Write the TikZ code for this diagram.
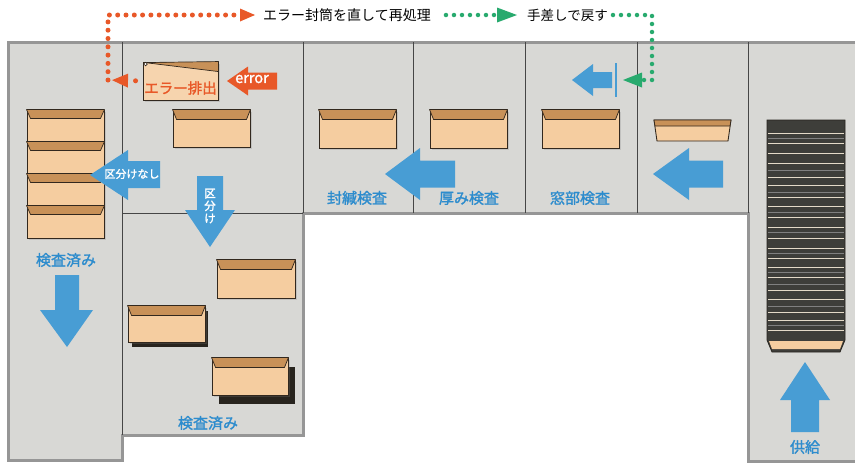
\documentclass[tikz,border=0pt]{standalone}
\usepackage{fontspec}
\newfontfamily\jp{Noto Sans CJK JP}
\newfontfamily\jpb[FakeBold=1.6]{Noto Sans CJK JP}
\usetikzlibrary{arrows.meta,shadows}

\definecolor{floorgray}{RGB}{216,216,213}
\definecolor{rimgray}{RGB}{150,150,150}
\definecolor{seamgray}{RGB}{70,70,70}
\definecolor{paper}{RGB}{245,205,160}
\definecolor{flapbrown}{RGB}{200,145,88}
\definecolor{edge}{RGB}{50,40,30}
\definecolor{flowblue}{RGB}{72,157,212}
\definecolor{lblblue}{RGB}{45,140,205}
\definecolor{errorange}{RGB}{232,88,40}
\definecolor{backgreen}{RGB}{40,170,110}
\definecolor{stackdark}{RGB}{62,62,58}
\definecolor{stackline}{RGB}{228,218,200}
\definecolor{boxside}{RGB}{40,36,30}

\begin{document}
\begin{tikzpicture}[x=1pt, y=-1pt,
		env/.style={rectangle, draw=edge, fill=paper, line width=0.9pt, inner sep=0pt,
			drop shadow={shadow xshift=2pt, shadow yshift=-2pt, opacity=0.25}},
		flap/.style={draw=edge, fill=flapbrown, line width=0.7pt, line join=round},
		flow/.style={fill=flowblue},
		rim/.style={draw=rimgray, line width=3pt, line join=miter},
		seam/.style={draw=seamgray, line width=0.9pt},
		lbl/.style={text=lblblue, font=\jpb\fontsize{15}{15}\selectfont, inner sep=0pt},
		odots/.style={draw=errorange, line width=5pt, line cap=round, dash pattern=on 0pt off 8.3pt},
		gdots/.style={draw=backgreen, line width=4.5pt, line cap=round, dash pattern=on 0pt off 8pt}
	]
	\useasboundingbox (0,0) rectangle (855,464);

	% Floor of the machine
	\fill[floorgray] (8,42) -- (855,42) -- (855,461) -- (748,461) -- (748,213) -- (303,213)
		-- (303,435) -- (122,435) -- (122,460) -- (8,460) -- cycle;
	\draw[rim] (855,42) -- (8,42) -- (8,460) -- (122,460) -- (122,435) -- (303,435)
		-- (303,213) -- (748,213) -- (748,461) -- (855,461);
	\draw[seam] (122,42) -- (122,435);
	\draw[seam] (122,213) -- (303,213);
	\foreach \x in {303,413,525,637,748}
		\draw[seam] (\x,42) -- (\x,213);

	% Supply stack (right)
	\filldraw[draw=boxside, fill=stackdark, line width=0.8pt] (767,120) -- (845,120) -- (845,340)
		-- (840,352) -- (772,352) -- (767,340) -- cycle;
	\foreach \y in {133,143,153,163,177,185,197,206,217,227,238,248,258,267,277,290,299,312,320,330}
		\draw[stackline, line width=1pt] (768,\y) -- (844,\y);
	\foreach \y in {138,170,192,212,232,253,272,284,306,325}
		\draw[gray, line width=0.8pt] (768,\y) -- (844,\y);
	\fill[paper] (769,341) -- (843,341) -- (840,349) -- (772,349) -- cycle;

	% Thin envelope on the feed
	\filldraw[draw=edge, fill=paper, line width=0.9pt] (654,120) -- (731,120) -- (728,141) -- (657,141) -- cycle;
	\filldraw[flap] (654,120) -- (731,120) -- (730,126) -- (655,126) -- cycle;

	% Envelopes under inspection
	\node[env, minimum width=77pt, minimum height=38pt] (win) at (580.5,129) {};
	\node[env, minimum width=77pt, minimum height=38pt] (thick) at (468.5,129) {};
	\node[env, minimum width=77pt, minimum height=38pt] (seal) at (357.5,129) {};
	\node[env, minimum width=77pt, minimum height=37pt] (split) at (211.5,128.5) {};
	\foreach \e in {win,thick,seal,split}
		\filldraw[flap] (\e.north west) -- ([shift={(4,10)}]\e.north west)
			-- ([shift={(-4,10)}]\e.north east) -- (\e.north east) -- cycle;

	% Stack without sorting (left)
	\node[env, minimum width=77pt, minimum height=32pt] (s1) at (65.5,126) {};
	\node[env, minimum width=77pt, minimum height=32pt] (s2) at (65.5,158) {};
	\node[env, minimum width=77pt, minimum height=32pt] (s3) at (65.5,190) {};
	\node[env, minimum width=77pt, minimum height=32pt] (s4) at (65.5,222) {};
	\foreach \e in {s1,s2,s3,s4}
		\filldraw[flap] (\e.north west) -- ([shift={(4,9)}]\e.north west)
			-- ([shift={(-4,9)}]\e.north east) -- (\e.north east) -- cycle;

	% Sorted boxes (lower middle)
	\fill[boxside] (132,311) rectangle (208,347);
	\fill[boxside] (219,367) rectangle (295,404);
	\node[env, minimum width=78pt, minimum height=38pt] (boxA) at (256,279) {};
	\node[env, minimum width=77pt, minimum height=36pt] (boxB) at (166.5,324) {};
	\node[env, minimum width=76pt, minimum height=37pt] (boxC) at (250,376.5) {};
	\foreach \e in {boxA,boxB,boxC}
		\filldraw[flap] (\e.north west) -- ([shift={(4,10)}]\e.north west)
			-- ([shift={(-4,10)}]\e.north east) -- (\e.north east) -- cycle;

	% Rejected envelope
	\node[env, fill=paper!85!white, minimum width=75pt, minimum height=38pt] (errEnv) at (180.5,81) {};
	\filldraw[flap] ([shift={(2,1)}]errEnv.north west) -- (errEnv.north east) -- ([shift={(0,10)}]errEnv.north east) -- cycle;
	\filldraw[draw=edge, fill=white, line width=0.6pt] ([shift={(3,2.5)}]errEnv.north west) circle (1.8);
	\node[font=\jpb\fontsize{14.5}{14.5}\selectfont, text=errorange, inner sep=0pt] (errTxt) at (180.5,88) {エラー排出};

	% Flow arrows
	\fill[flow] (653,174) -- (689,148) -- (689,160.5) -- (723,160.5) -- (723,187.5) -- (689,187.5) -- (689,200) -- cycle;
	\fill[flow] (385,174) -- (420,148) -- (420,160.5) -- (455,160.5) -- (455,187.5) -- (420,187.5) -- (420,200) -- cycle;
	\fill[flow] (572,80) -- (593,64) -- (593,72) -- (612,72) -- (612,88) -- (593,88) -- (593,96) -- cycle;
	\draw[flowblue, line width=2.5pt] (616,63) -- (616,97);
	\fill[flow] (90,175) -- (128,150) -- (128,161) -- (160,161) -- (160,188) -- (128,188) -- (128,200) -- cycle;
	\fill[flow] (210,247) -- (185,210) -- (197,210) -- (197,176) -- (223,176) -- (223,210) -- (235,210) -- cycle;
	\fill[flow] (67,347) -- (40,310) -- (55,310) -- (55,275) -- (79,275) -- (79,310) -- (93,310) -- cycle;
	\fill[flow] (805,362) -- (780,400) -- (791,400) -- (791,432) -- (819,432) -- (819,400) -- (830,400) -- cycle;
	\fill[errorange] (227,81) -- (248,66.5) -- (248,72.5) -- (277,72.5) -- (277,89.5) -- (248,89.5) -- (248,95.5) -- cycle;

	% Text on arrows
	\node[font=\jpb\fontsize{14.5}{14.5}\selectfont, text=white, inner sep=0pt] (errTag) at (252,79) {error};
	\node[font=\jpb\fontsize{11}{11}\selectfont, text=white, inner sep=0pt] (noSort) at (132,174) {区分けなし};
	\node[font=\jpb\fontsize{11.5}{12.5}\selectfont, text=white, inner sep=0pt, align=center] (sortTag) at (210,206) {区\\分\\け};

	% Station labels
	\node[lbl] (lblSeal) at (357,198) {封緘検査};
	\node[lbl] (lblThick) at (469,198) {厚み検査};
	\node[lbl] (lblWin) at (580,198) {窓部検査};
	\node[lbl] (lblDoneL) at (66,260) {検査済み};
	\node[lbl] (lblDoneB) at (208,423) {検査済み};
	\node[lbl] (lblSupply) at (805,447) {供給};

	% Rework loop
	\node[anchor=west, inner sep=0pt, font=\jp\fontsize{14}{14}\selectfont] (redo) at (263,15) {エラー封筒を直して再処理};
	\node[anchor=west, inner sep=0pt, font=\jp\fontsize{13.5}{13.5}\selectfont] (back) at (527,15) {手差しで戻す};
	\coordinate (oCorner) at (108,80);
	\coordinate (oTop) at (108,15);
	\coordinate (gTop) at (652,15);
	\coordinate (gEnd) at (623,80);
	\draw[odots, shorten <=7pt, shorten >=4pt, -{Triangle[length=16pt,width=14pt,line width=0pt]}] (errEnv.west) -- (oCorner);
	\draw[odots, shorten >=8pt, -{Triangle[length=15pt,width=13pt,line width=0pt]}] (oCorner) -- (oTop) -- (redo.west);
	\draw[gdots, shorten <=15pt, shorten >=10pt, -{Triangle[length=20pt,width=15pt,line width=0pt]}] (redo.east) -- (back.west);
	\draw[gdots, shorten <=5pt, -{Triangle[length=19pt,width=15pt,line width=0pt]}] (back.east) -- (gTop) |- (gEnd);
\end{tikzpicture}
\end{document}
